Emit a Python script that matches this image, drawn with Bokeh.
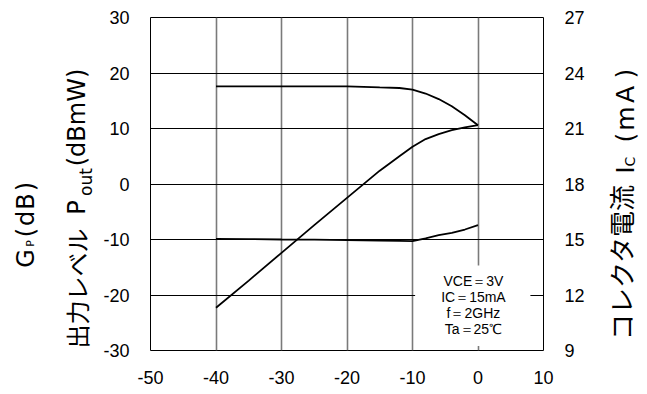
from math import pi
from bokeh.plotting import figure
from bokeh.layouts import row
from bokeh.models import Range1d, LinearAxis, FixedTicker, Label, BoxAnnotation
from bokeh.embed import file_html
from bokeh.resources import INLINE

# ---- data ----
pin = [-40, -35, -30, -25, -20, -15, -12, -10, -8, -6, -4, -2, 0]
gp = [17.6, 17.6, 17.6, 17.6, 17.6, 17.4, 17.3, 17.0, 16.3, 15.3, 14.0, 12.4, 10.6]
pout = [-22.3, -17.4, -12.4, -7.4, -2.5, 2.4, 5.0, 6.7, 8.1, 9.0, 9.7, 10.2, 10.6]
ic = [15.03, 15.02, 15.0, 14.99, 14.97, 14.94, 14.93, 14.91, 15.06, 15.24, 15.36, 15.54, 15.78]

x_ticks = [-50, -40, -30, -20, -10, 0, 10]
x_tick_labels = ["-50", "-40", "-30", "-20", "-10", "0", "10"]
left_ticks = [-30, -20, -10, 0, 10, 20, 30]
left_tick_labels = ["-30", "-20", "-10", "0", "10", "20", "30"]
right_ticks = [9, 12, 15, 18, 21, 24, 27]
right_tick_labels = ["9", "12", "15", "18", "21", "24", "27"]
x_grid = [-40, -30, -20, -10, 0]
y_grid = [-20, -10, 0, 10, 20]

cond_lines = ["VCE＝3V", "IC＝15mA", "f＝2GHz", "Ta＝25℃"]

TICK_FONT = "Liberation Sans"
LAT_FONT = "DejaVu Sans"
CJK_FONT = "Noto Sans CJK JP"
H = 386
FB = 351  # frame bottom (pixels from top) shared by the row

# ---- main plot ----
p = figure(width=498, height=H, x_range=Range1d(-50, 10), y_range=Range1d(-30, 30),
           output_backend="svg", toolbar_location=None,
           min_border_left=50, min_border_right=55, min_border_top=17, min_border_bottom=H - FB)
p.extra_y_ranges = {"ic": Range1d(9, 27)}
p.background_fill_color = "white"
p.border_fill_color = "white"
p.outline_line_color = "black"
p.outline_line_width = 1
p.outline_line_alpha = 1

p.xaxis.ticker = FixedTicker(ticks=x_ticks)
p.xaxis.major_label_overrides = dict(zip(x_ticks, x_tick_labels))
p.yaxis.ticker = FixedTicker(ticks=left_ticks)
p.yaxis.major_label_overrides = dict(zip(left_ticks, left_tick_labels))
rax = LinearAxis(y_range_name="ic", ticker=FixedTicker(ticks=right_ticks),
                 major_label_overrides=dict(zip(right_ticks, right_tick_labels)))
p.add_layout(rax, "right")
for ax in [p.xaxis[0], p.yaxis[0], rax]:
    ax.axis_line_color = None
    ax.major_tick_line_color = None
    ax.minor_tick_line_color = None
    ax.major_label_text_font = TICK_FONT
    ax.major_label_text_font_size = "18px"
    ax.major_label_text_color = "black"
    ax.major_label_standoff = 15
p.xaxis.major_label_standoff = 14

p.xgrid.ticker = FixedTicker(ticks=x_grid)
p.xgrid.grid_line_color = "#7a7a7a"
p.xgrid.grid_line_width = 1.6
p.ygrid.ticker = FixedTicker(ticks=y_grid)
p.ygrid.grid_line_color = "black"
p.ygrid.grid_line_width = 1

p.line(pin, gp, line_color="black", line_width=1.8)
p.line(pin, pout, line_color="black", line_width=1.8)
p.line(pin, ic, line_color="black", line_width=1.8, y_range_name="ic")

p.add_layout(BoxAnnotation(left=-9.6, right=8.0, top=-14.7, bottom=-29.2,
                           fill_color="white", fill_alpha=1, line_color=None))
cond_y = [-17.4, -20.4, -23.3, -26.2]
for t, yy in zip(cond_lines, cond_y):
    p.add_layout(Label(x=-0.7, y=yy, text=t, text_align="center", text_baseline="middle",
                       text_font="Liberation Sans", text_font_size="14px", text_color="black"))


# ---- side figures holding the rotated axis titles ----
def side_fig(w):
    f = figure(width=w, height=H, x_range=Range1d(0, 1), y_range=Range1d(0, 1),
               x_axis_type=None, y_axis_type=None, output_backend="svg",
               toolbar_location=None, min_border=0)
    f.outline_line_color = None
    f.background_fill_color = "white"
    f.border_fill_color = "white"
    return f


def vlabel(f, text, cx, cy, size, font):
    # (cx, cy): centre of the text box, in page pixels (cy from the top)
    f.add_layout(Label(x=cx, y=FB - cy, x_units="screen", y_units="screen", text=text,
                       angle=pi / 2, text_align="center", text_baseline="middle",
                       text_font=font, text_font_size=size, text_color="black"))


left = side_fig(100)
# G_P(dB)
vlabel(left, "G", 25, 259, "24px", LAT_FONT)
vlabel(left, "P", 29.7, 244, "11px", LAT_FONT)
vlabel(left, "(", 25, 233, "24px", LAT_FONT)
vlabel(left, "d", 25, 219, "24px", LAT_FONT)
vlabel(left, "B", 25, 202, "24px", LAT_FONT)
vlabel(left, ")", 25, 187, "24px", LAT_FONT)
# 出力レベル P_out(dBmW)
vlabel(left, "出力レベル", 76, 289, "24px", CJK_FONT)
vlabel(left, "P", 76, 208, "24px", LAT_FONT)
vlabel(left, "out", 85, 182.5, "17px", LAT_FONT)
vlabel(left, "(dBmW)", 76, 118, "24px", LAT_FONT)

right = side_fig(41)
RX = 598
vlabel(right, "コレクタ電流", 620 - RX, 262.5, "26px", CJK_FONT)
vlabel(right, "I", 625 - RX, 170.5, "24px", LAT_FONT)
vlabel(right, "C", 629 - RX, 162, "14px", LAT_FONT)
vlabel(right, "(", 625 - RX, 138, "25px", LAT_FONT)
vlabel(right, "m", 625 - RX, 119, "25px", LAT_FONT)
vlabel(right, "A", 625 - RX, 95, "25px", LAT_FONT)
vlabel(right, ")", 625 - RX, 74, "25px", LAT_FONT)

layout = row(left, p, right, spacing=0)
open("out.html", "w").write(file_html(layout, INLINE))
